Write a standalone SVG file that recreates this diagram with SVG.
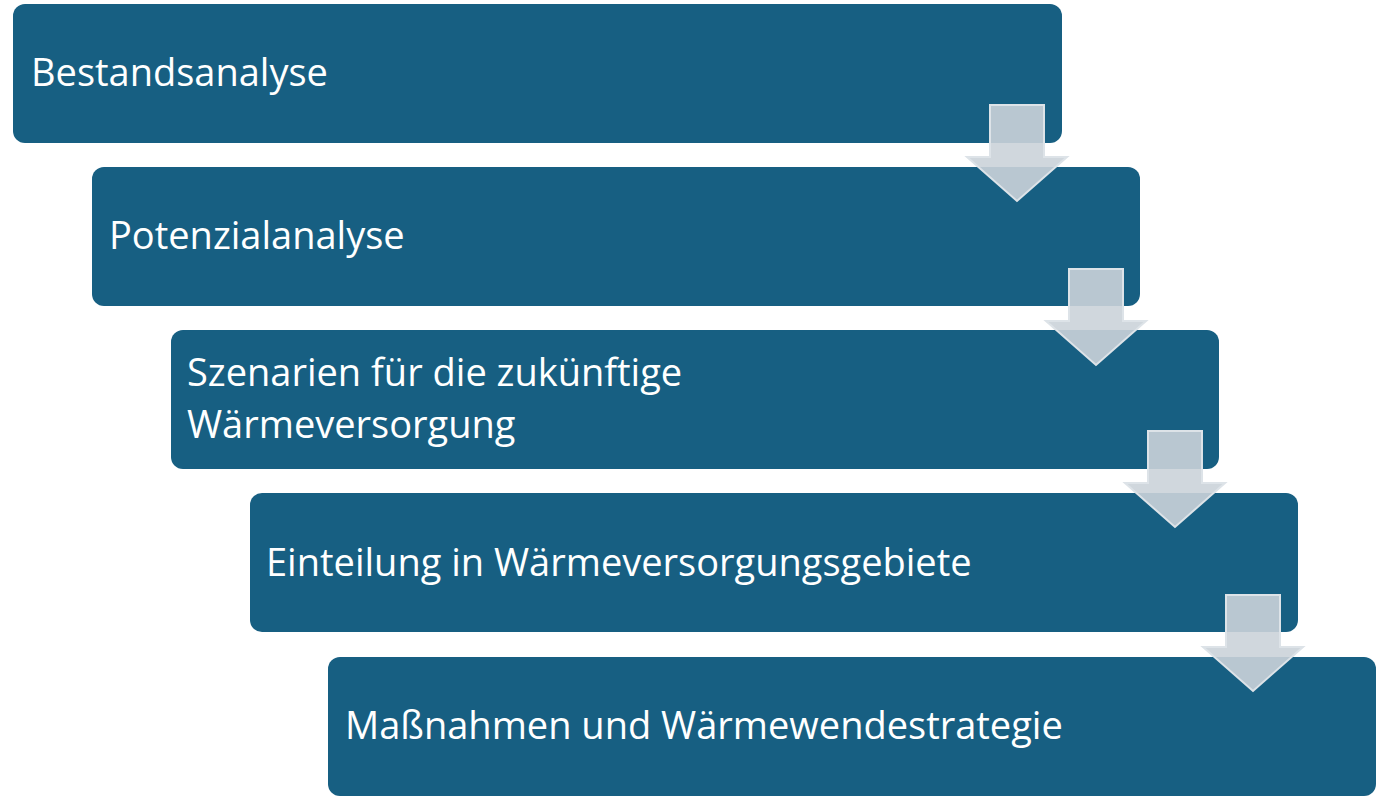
<svg xmlns="http://www.w3.org/2000/svg" width="1380" height="800" viewBox="0 0 1380 800">
<style>
.box{fill:#175f82}
.t{font-family:"Open Sans","Liberation Sans",sans-serif;font-size:38px;fill:#ffffff}
.ar{fill:#cbd3d9;fill-opacity:0.9;stroke:#dde3e8;stroke-width:2}
</style>
<rect width="1380" height="800" fill="#ffffff"/>
<g id="n1"><rect class="box" x="13" y="4" width="1049" height="139" rx="12"/><text class="t" x="31" y="86">Bestandsanalyse</text></g>
<g id="n2"><rect class="box" x="92" y="167" width="1048" height="139" rx="12"/><text class="t" x="109" y="249">Potenzialanalyse</text></g>
<g id="n3"><rect class="box" x="171" y="330" width="1048" height="139" rx="12"/><text class="t" x="187" y="386">Szenarien für die zukünftige</text><text class="t" x="187" y="438">Wärmeversorgung</text></g>
<g id="n4"><rect class="box" x="250" y="493" width="1048" height="139" rx="12"/><text class="t" x="266" y="576">Einteilung in Wärmeversorgungsgebiete</text></g>
<g id="n5"><rect class="box" x="328" y="657" width="1048" height="139" rx="12"/><text class="t" x="345" y="739">Maßnahmen und Wärmewendestrategie</text></g>
<g id="connectors">
<path class="ar" d="M990 105 H1044 V157 H1067 L1017 201 L967 157 H990 Z"/>
<path class="ar" transform="translate(79,164)" d="M990 105 H1044 V157 H1067 L1017 201 L967 157 H990 Z"/>
<path class="ar" transform="translate(158,326)" d="M990 105 H1044 V157 H1067 L1017 201 L967 157 H990 Z"/>
<path class="ar" transform="translate(236,490)" d="M990 105 H1044 V157 H1067 L1017 201 L967 157 H990 Z"/>
</g>
</svg>
